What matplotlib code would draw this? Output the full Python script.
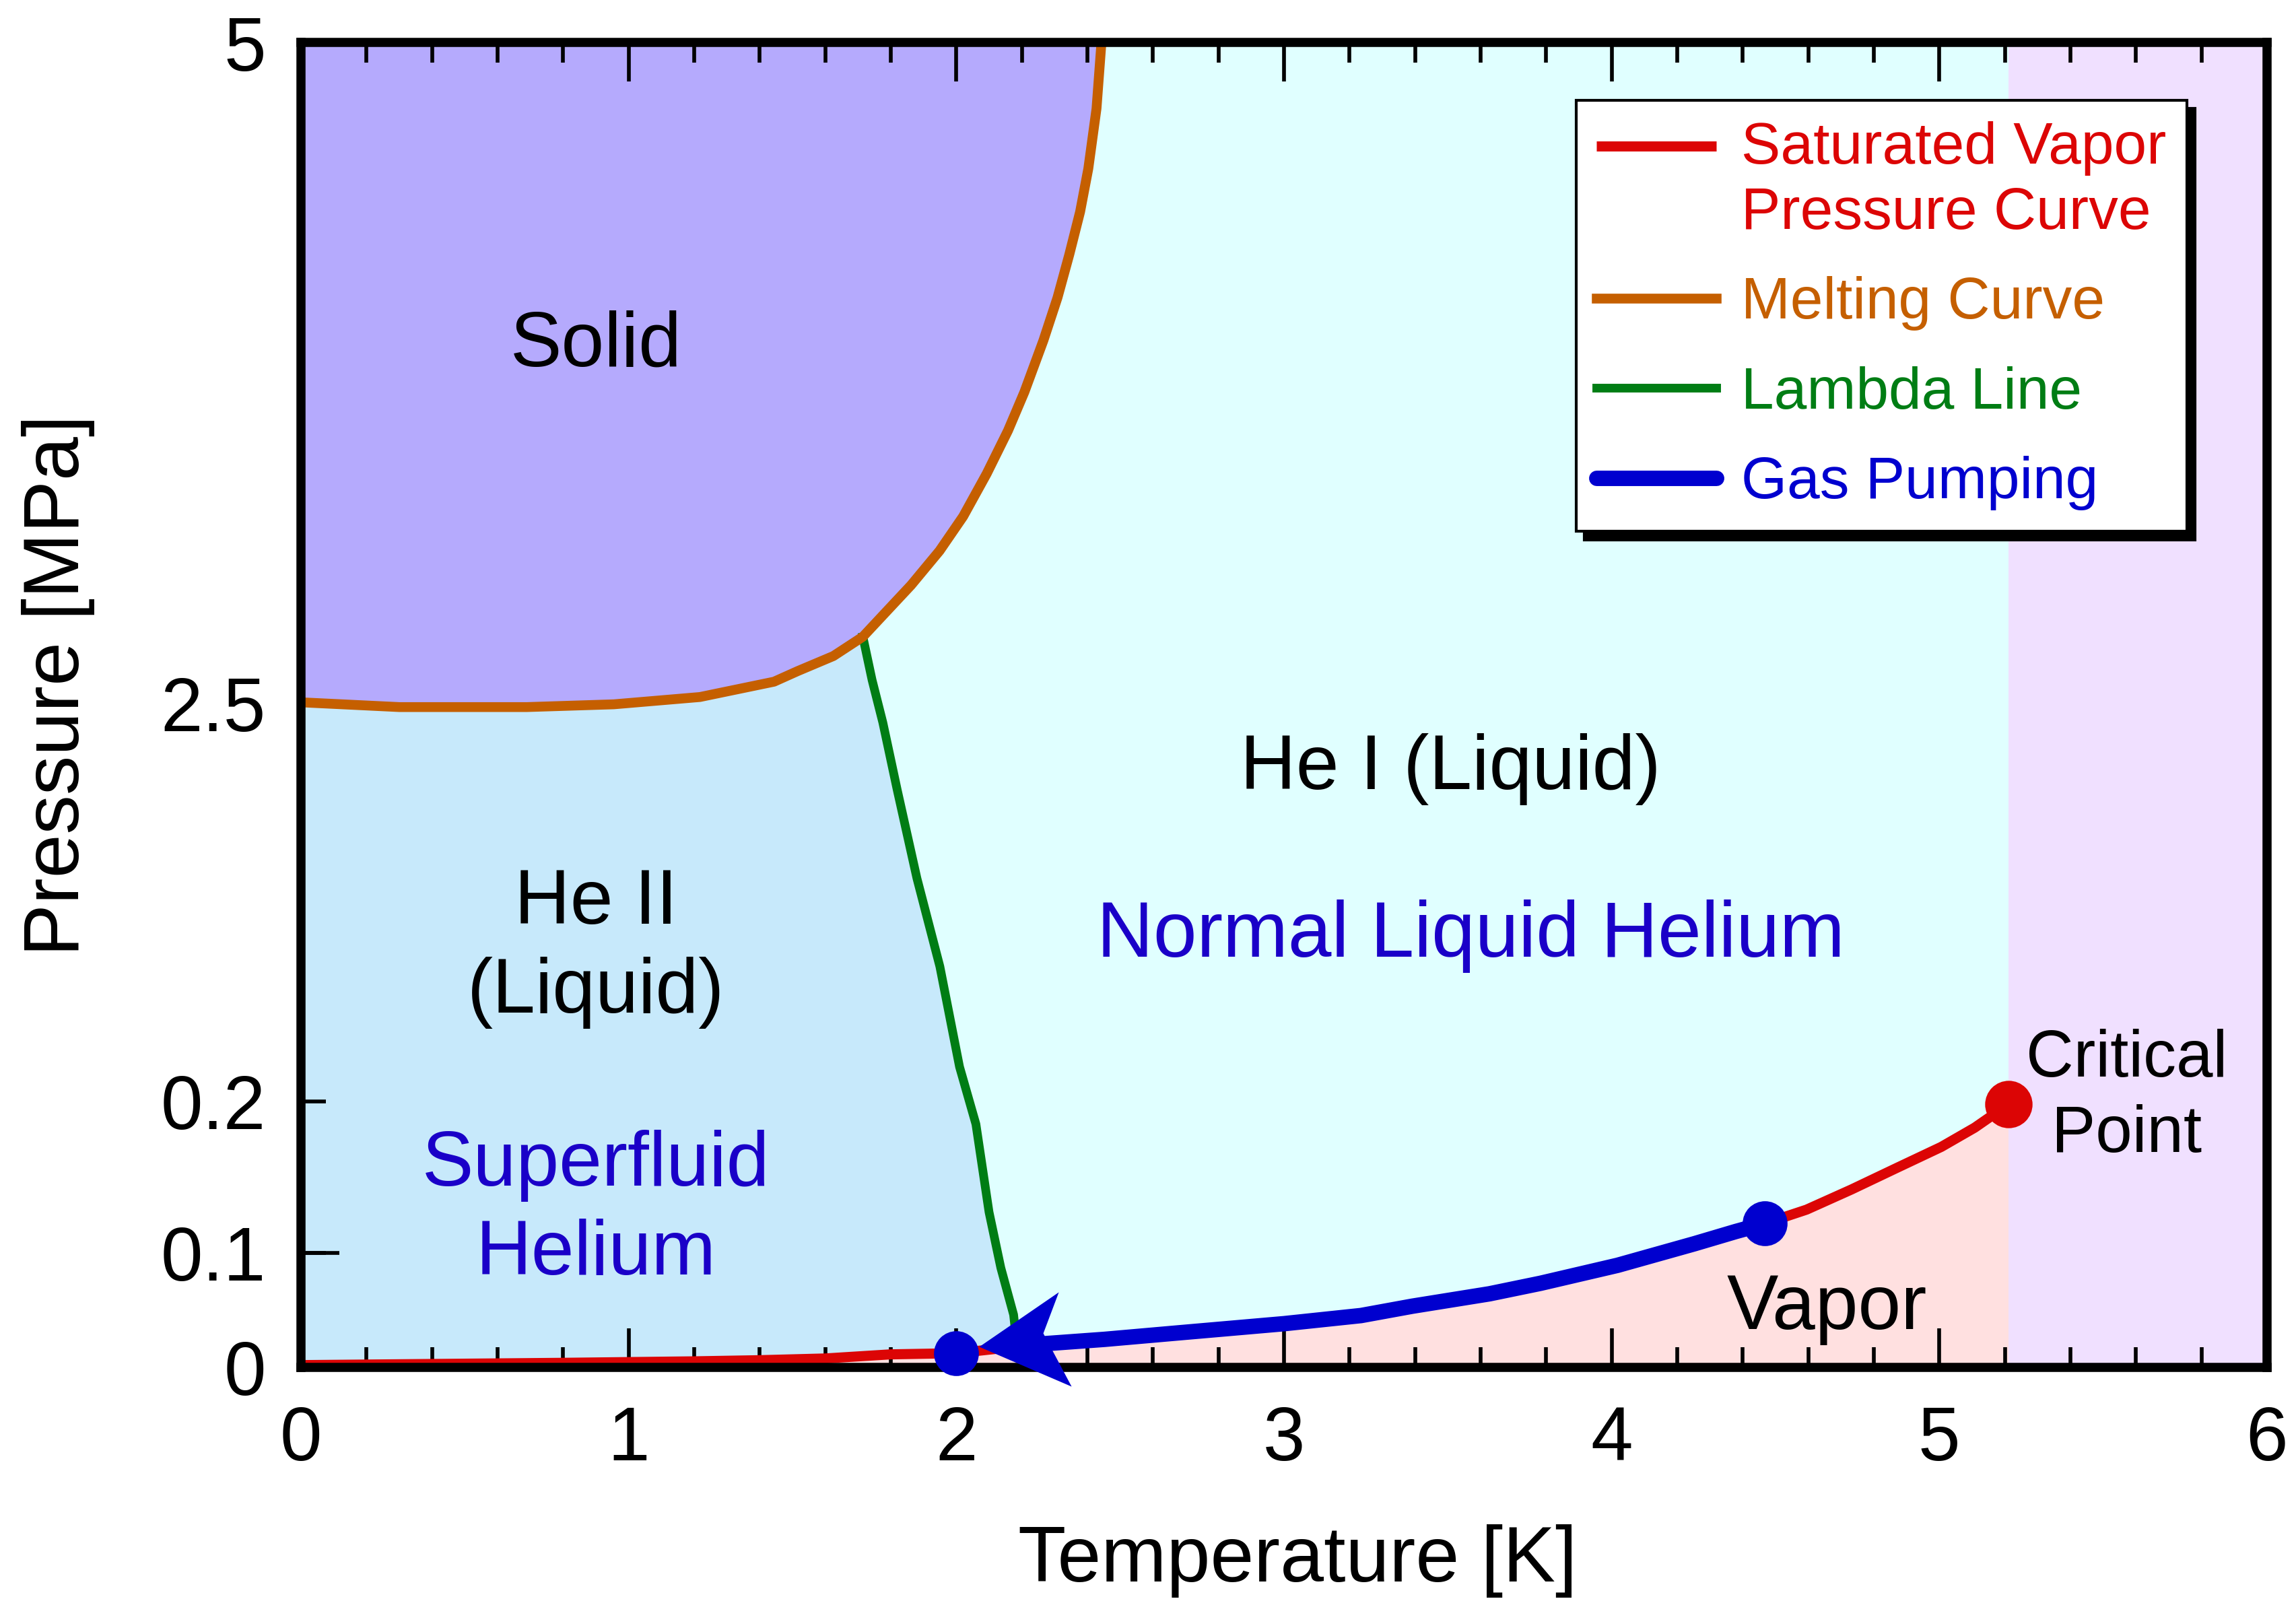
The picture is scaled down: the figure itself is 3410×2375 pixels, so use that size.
import numpy as np
import matplotlib
matplotlib.use('Agg')
import matplotlib.pyplot as plt
from matplotlib.path import Path
from matplotlib.ticker import FixedLocator, MultipleLocator
from matplotlib.legend_handler import HandlerLine2D

plt.rcParams['font.family'] = ['Liberation Sans', 'DejaVu Sans']

# hand-drawn pressure axis: MPa -> fraction of axis height
p_nodes = [0.0, 0.1, 0.2, 2.5, 5.0]
u_nodes = [0.0, 0.0864, 0.2008, 0.5011, 1.0]

# saturated vapor pressure curve (K, MPa)
svp_T = [0.0, 0.4, 0.8, 1.2, 1.4, 1.6, 1.8, 2.0, 2.264, 2.452, 2.687, 3.0, 3.235, 3.392, 3.627,
         3.783, 4.018, 4.253, 4.378, 4.467, 4.595, 4.732, 4.869, 5.006, 5.108, 5.21]
svp_P = [0.002, 0.003, 0.004, 0.0053, 0.0063, 0.0078, 0.0114, 0.0124, 0.0206, 0.0245, 0.0304,
         0.0382, 0.0453, 0.0535, 0.0643, 0.0735, 0.0892, 0.1061, 0.1141, 0.1194, 0.1286, 0.1419,
         0.156, 0.170, 0.1827, 0.198]

# melting curve
melt_T = [0.0, 0.30, 0.69, 0.955, 1.218, 1.444, 1.516, 1.625, 1.715, 1.776, 1.862, 1.949, 2.021,
          2.093, 2.158, 2.208, 2.266, 2.309, 2.345, 2.378, 2.403, 2.428, 2.443]
melt_P = [2.505, 2.48, 2.48, 2.496, 2.525, 2.583, 2.623, 2.680, 2.753, 2.834, 2.948, 3.078, 3.208,
          3.370, 3.533, 3.679, 3.874, 4.036, 4.199, 4.361, 4.524, 4.751, 5.0]

# lambda line
lam_T = [1.715, 1.743, 1.776, 1.82, 1.88, 1.95, 2.01, 2.06, 2.10, 2.136, 2.175, 2.185]
lam_P = [2.753, 2.59, 2.39, 2.0, 1.49, 0.98, 0.40, 0.185, 0.127, 0.087, 0.046, 0.02]

# gas pumping path along the vapor curve
pump_T = [4.467, 4.378, 4.253, 4.018, 3.783, 3.627, 3.392, 3.235, 3.0, 2.687, 2.452, 2.264]
pump_P = [0.1194, 0.1141, 0.1061, 0.0892, 0.0735, 0.0643, 0.0535, 0.0453, 0.0382, 0.0304, 0.0245,
          0.0206]
pump_dot_T = [4.467, 2.0]
pump_dot_P = [0.1194, 0.0124]
arrow_T, arrow_P = 2.07, 0.018

crit_T, crit_P = 5.21, 0.198

y_ticks = [0, 0.1, 0.2, 2.5, 5]
y_tick_labels = ['0', '0.1', '0.2', '2.5', '5']

c_solid = '#b5aafd'
c_he2 = '#c7e9fb'
c_he1 = '#e0ffff'
c_vapor = '#ffe0e0'
c_super = '#f0e0ff'
c_red = '#dc0505'
c_orange = '#c55f00'
c_green = '#007d14'
c_blue = '#0000cf'
c_text_blue = '#1a00c8'


def fwd(p):
    return np.interp(p, p_nodes, u_nodes)


def inv(u):
    return np.interp(u, u_nodes, p_nodes)


class FirstLineHandler(HandlerLine2D):
    # put the handle next to the first line of a two-line label
    def create_artists(self, legend, orig_handle, xdescent, ydescent, width, height, fontsize, trans):
        arts = super().create_artists(legend, orig_handle, xdescent, ydescent, width, height, fontsize, trans)
        for a in arts:
            a.set_ydata(np.asarray(a.get_ydata()) + 0.6 * fontsize)
        return arts


fig = plt.figure(figsize=(11.37, 7.9167), dpi=300)
ax = fig.add_axes([0.1310, 0.14484, 0.8561, 0.82842])
ax.set_yscale('function', functions=(fwd, inv))
ax.set_xlim(0, 6)
ax.set_ylim(0, 5)

# phase regions
ax.set_facecolor(c_he1)
ax.axvspan(crit_T, 6, color=c_super, lw=0, zorder=0.5)
ax.fill_between(melt_T, melt_P, 5, color=c_solid, lw=0, zorder=0.6)
he2_T = [0] + melt_T[:9] + lam_T[1:] + [lam_T[-1]]
he2_P = [0] + melt_P[:9] + lam_P[1:] + [0]
ax.fill(he2_T, he2_P, color=c_he2, lw=0, zorder=0.6)
ax.fill_between(svp_T, svp_P, 0, color=c_vapor, lw=0, zorder=0.7)

# curves
svp_line, = ax.plot(svp_T, svp_P, color=c_red, lw=3.6, zorder=3, solid_capstyle='butt')
melt_line, = ax.plot(melt_T, melt_P, color=c_orange, lw=3.5, zorder=3)
lam_line, = ax.plot(lam_T, lam_P, color=c_green, lw=3.1, zorder=2.9)
pump_line, = ax.plot(pump_T, pump_P, color=c_blue, lw=5.5, zorder=4, solid_capstyle='round')
ax.plot(pump_dot_T, pump_dot_P, 'o', color=c_blue, ms=16, mew=0, zorder=5, clip_on=False)
ax.plot([crit_T], [crit_P], 'o', color=c_red, ms=16.9, mew=0, zorder=5, clip_on=False)

# arrow head (notched), tip at the data point
head = Path([(0, 0), (118, 81), (95, 20), (137, -59), (0, 0)], closed=True)
ax.plot([arrow_T], [arrow_P], marker=head, ms=65.8, color=c_blue, mew=0, zorder=5, clip_on=False)

# labels in the regions
big = 27.5
ax.text(0.90, 3.853, 'Solid', fontsize=big, ha='center', va='center', zorder=6)
ax.text(3.509, 2.122, 'He I (Liquid)', fontsize=big, ha='center', va='center', zorder=6)
ax.text(3.571, 1.157, 'Normal Liquid Helium', fontsize=27.9, color=c_text_blue,
        ha='center', va='center', zorder=6)
ax.text(0.90, 1.085, 'He II\n(Liquid)', fontsize=big, ha='center', va='center',
        multialignment='center', linespacing=1.31, zorder=6)
ax.text(0.90, 0.1282, 'Superfluid\nHelium', fontsize=big, color=c_text_blue, ha='center',
        va='center', multialignment='center', linespacing=1.31, zorder=6)
ax.text(4.657, 0.0507, 'Vapor', fontsize=big, ha='center', va='center', zorder=6)
ax.text(5.572, 0.225, 'Critical\nPoint', fontsize=23.5, ha='center', va='center',
        multialignment='center', linespacing=1.3, zorder=6)

# axes styling
for s in ax.spines.values():
    s.set_linewidth(3.25)
    s.set_zorder(4.5)
ax.xaxis.set_major_locator(MultipleLocator(1))
ax.xaxis.set_minor_locator(MultipleLocator(0.2))
ax.set_yticks(y_ticks)
ax.set_yticklabels(y_tick_labels)
ax.yaxis.set_minor_locator(FixedLocator([0.1]))
ax.yaxis.remove_overlapping_locs = False
ax.tick_params(axis='x', which='both', direction='in', top=True, bottom=True, width=1.35,
               labelsize=27, pad=13.5)
ax.tick_params(axis='x', which='major', length=14)
ax.tick_params(axis='x', which='minor', length=7.2)
ax.tick_params(axis='y', which='both', direction='in', left=True, right=False, width=1.35,
               labelsize=27, pad=12.5)
ax.tick_params(axis='y', which='major', length=8.9)
ax.tick_params(axis='y', which='minor', length=13.7)

ax.set_xlabel('Temperature [K]', fontsize=28, va='center')
ax.xaxis.set_label_coords(0.507, -0.1462)
ax.set_ylabel('Pressure [MPa]', fontsize=28, va='center')
ax.yaxis.set_label_coords(-0.1233, 0.5149)

leg = ax.legend([svp_line, melt_line, lam_line, pump_line],
                ['Saturated Vapor\nPressure Curve', 'Melting Curve', 'Lambda Line', 'Gas Pumping'],
                handler_map={svp_line: FirstLineHandler()},
                loc='upper left', bbox_to_anchor=(0.6486, 0.9566), borderaxespad=0,
                fontsize=21, labelcolor='linecolor', handlelength=2.03, handletextpad=0.42,
                borderpad=0.35, labelspacing=0.6, fancybox=False, framealpha=1,
                edgecolor='black',
                shadow={'ox': 3, 'oy': -3, 'facecolor': 'black', 'edgecolor': 'black', 'alpha': 1})
leg.get_frame().set_linewidth(1.0)
leg.get_texts()[0].set_linespacing(1.26)
leg.set_zorder(10)

fig.savefig('out.png', dpi=300)
